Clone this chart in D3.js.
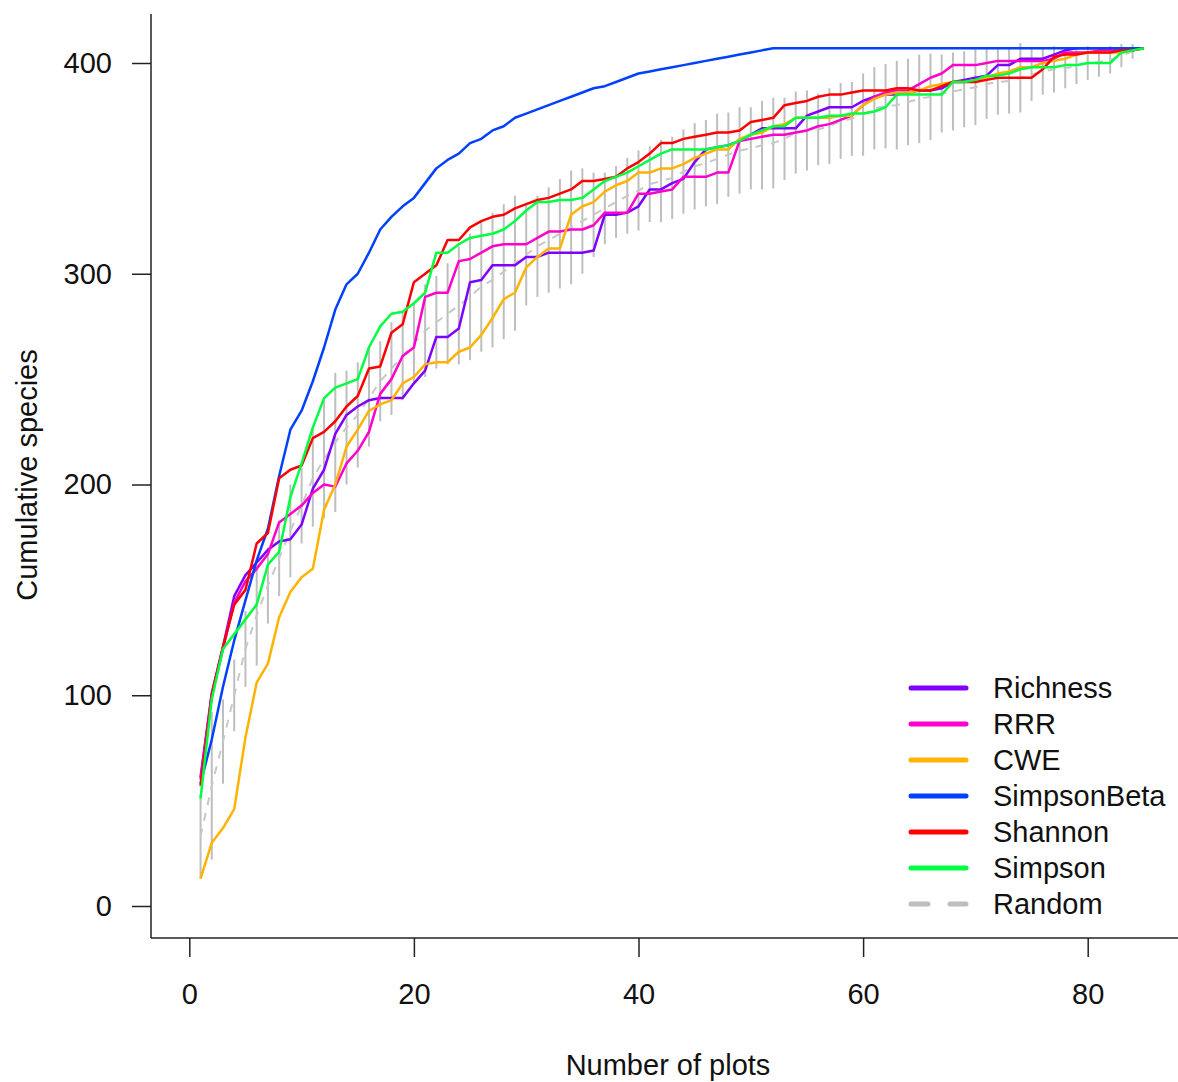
<!DOCTYPE html>
<html>
<head>
<meta charset="utf-8">
<script src="https://cdn.jsdelivr.net/npm/d3@7"></script>
<style>
  body { margin: 0; background: #fff; }
  text { font-family: "Liberation Sans", Arial, sans-serif; fill: #111; }
</style>
</head>
<body>
<div id="chart"></div>
<script>
// number of plots on the x axis (1..85)
var plots = d3.range(1, 86);

var richness = [61,101,123,147,157,163,169,173,174,181,198,207,224,233,237,240,241,241,241,248,
  254,270,270,274,296,297,304,304,304,308,308,310,310,310,310,311,328,328,329,332,
  340,340,343,345,353,359,360,361,363,366,369,369,369,369,375,377,379,379,379,382,
  384,385,385,386,387,387,388,391,392,393,394,399,399,402,402,402,404,406,407,407,
  407,407,407,407,407];
var rrr = [60,100,122,144,154,160,167,182,186,190,196,200,199,210,216,225,243,250,261,265,
  289,291,291,306,307,310,313,314,314,314,317,320,320,321,321,323,329,329,329,338,
  338,339,340,346,346,346,348,348,363,364,365,366,366,367,368,370,371,373,375,380,
  384,386,387,387,390,393,395,399,399,399,400,401,401,401,401,401,402,405,405,405,
  406,406,406,406,407];
var cwe = [13,30,37,46,80,106,115,137,149,156,160,188,200,218,226,235,238,240,248,251,
  257,258,258,263,265,271,279,288,291,303,308,312,312,328,332,334,339,342,344,348,
  348,350,350,352,355,357,359,359,364,366,367,370,371,374,374,374,374,375,375,380,
  383,385,386,386,387,389,390,391,391,392,393,395,396,398,398,400,401,402,404,405,
  405,405,405,406,407];
var simpsonBeta = [58,79,104,126,145,164,179,204,226,235,249,265,283,295,300,310,321,327,332,336,
  343,350,354,357,362,364,368,370,374,376,378,380,382,384,386,388,389,391,393,395,
  396,397,398,399,400,401,402,403,404,405,406,407,407,407,407,407,407,407,407,407,
  407,407,407,407,407,407,407,407,407,407,407,407,407,407,407,407,407,407,407,407,
  407,407,407,407,407];
var shannon = [57,100,123,143,150,172,177,203,207,209,222,225,230,237,242,255,256,272,276,296,
  300,304,316,316,322,325,327,328,331,333,335,336,338,340,344,344,345,346,350,353,
  357,362,362,364,365,366,367,367,368,372,373,374,380,381,382,384,385,385,386,387,
  387,387,388,388,387,387,389,391,391,391,392,393,393,393,393,397,403,404,404,405,
  405,405,406,406,407];
var simpson = [51,98,122,129,136,143,162,168,194,210,227,241,246,248,250,265,275,281,282,286,
  291,310,310,314,317,318,319,321,325,330,334,334,335,335,336,340,344,346,348,351,
  354,357,359,359,359,359,360,361,363,366,368,370,370,374,374,374,375,375,376,376,
  377,379,385,385,385,385,385,391,391,392,394,394,395,397,398,398,398,399,399,400,
  400,400,405,406,407];
// random ordering: mean and half length of the grey bars
var randomMean = [33,57,78,100,122,138,152,165,178,190,203,212,220,227,233,241,249,255,261,267,
  273,277,281,285,289,294,297,301,305,309,313,316,319,322,325,328,331,334,337,339.5,
  342.5,344,345.5,348.5,351,352.5,354.5,356.5,358.5,359.5,361,362,364,367,368,368.5,370,372.5,373.5,375.5,
  378.5,379.5,380,381.5,383,384,385.5,386.5,387.5,388.5,390,391,391.5,393,394.5,396,397,397.5,398.5,400,
  400.5,401.5,403.5,405.5,407];
var randomHalf = [20,35,20,17,18,24,18,18,22,18,23,28,33,27,25,23,19,22,21,19,
  22,22,24,28,30,31,32,32,32,24,24,25,26,27,25,20,17,17,18,19,
  18,19.5,19.5,20,20.5,20.5,21.5,20,20.5,19.5,21,21.5,19.5,19.5,19,17,18,18,17.5,19.5,
  19.5,20,21,20.5,21,20.5,18.5,18.5,18,18,16.5,15.5,15.5,16.5,12.5,11,11,9.5,8.5,8,
  7,6.5,5.5,3.5,0];

var seriesNames = ["Richness", "RRR", "CWE", "SimpsonBeta", "Shannon", "Simpson"];
var seriesValues = [richness, rrr, cwe, simpsonBeta, shannon, simpson];
var seriesColors = ["#7F00FF", "#FF00CC", "#FFB300", "#0040FF", "#FF0000", "#00FF40"];
var xTicks = [0, 20, 40, 60, 80];
var yTicks = [0, 100, 200, 300, 400];

var W = 1178, H = 1082;
var svg = d3.select("#chart").append("svg").attr("width", W).attr("height", H);

var x = d3.scaleLinear().domain([0, 80]).range([189.3, 1087.7]);
var y = d3.scaleLinear().domain([0, 400]).range([906, 63]);

// frame (L shape)
svg.append("line").attr("x1", 151).attr("x2", 151).attr("y1", 14).attr("y2", 938)
  .attr("stroke", "#222").attr("stroke-width", 1.5);
svg.append("line").attr("x1", 151).attr("x2", W).attr("y1", 938).attr("y2", 938)
  .attr("stroke", "#222").attr("stroke-width", 1.5);

// axes
var gx = svg.append("g").attr("transform", "translate(0,938)")
  .call(d3.axisBottom(x).tickValues(xTicks).tickSize(19).tickPadding(26).tickFormat(d3.format("d")));
var gy = svg.append("g").attr("transform", "translate(151,0)")
  .call(d3.axisLeft(y).tickValues(yTicks).tickSize(19).tickPadding(20).tickFormat(d3.format("d")));
[gx, gy].forEach(function (g) {
  g.select(".domain").remove();
  g.selectAll(".tick line").attr("stroke", "#222").attr("stroke-width", 1.5);
  g.selectAll(".tick text").style("font-size", "29px").attr("fill", "#111");
});

svg.append("text").attr("x", 668).attr("y", 1075).attr("text-anchor", "middle")
  .style("font-size", "29px").text("Number of plots");
svg.append("text").attr("transform", "translate(37,475) rotate(-90)").attr("text-anchor", "middle")
  .style("font-size", "29px").text("Cumulative species");

// random: error bars and mean
svg.append("g").selectAll("line").data(plots).enter().append("line")
  .attr("x1", function (d) { return x(d); })
  .attr("x2", function (d) { return x(d); })
  .attr("y1", function (d, i) { return y(randomMean[i] - randomHalf[i]); })
  .attr("y2", function (d, i) { return y(randomMean[i] + randomHalf[i]); })
  .attr("stroke", "#BEBEBE").attr("stroke-width", 2);

var line = d3.line().x(function (d) { return x(d[0]); }).y(function (d) { return y(d[1]); });

svg.append("path").datum(plots.map(function (p, i) { return [p, randomMean[i]]; }))
  .attr("d", line).attr("fill", "none").attr("stroke", "#C8C8C8")
  .attr("stroke-width", 2).attr("stroke-dasharray", "8,8");

seriesValues.forEach(function (vals, k) {
  svg.append("path").datum(plots.map(function (p, i) { return [p, vals[i]]; }))
    .attr("d", line).attr("fill", "none").attr("stroke", seriesColors[k])
    .attr("stroke-width", 2.5).attr("stroke-linejoin", "round");
});

// legend
var legNames = seriesNames.concat(["Random"]);
var legColors = seriesColors.concat(["#BEBEBE"]);
var leg = svg.append("g").selectAll("g").data(legNames).enter().append("g")
  .attr("transform", function (d, i) { return "translate(0," + (688 + i * 36) + ")"; });
leg.append("line").attr("x1", 911).attr("x2", 966).attr("y1", 0).attr("y2", 0)
  .attr("stroke", function (d, i) { return legColors[i]; })
  .attr("stroke-width", 5).attr("stroke-linecap", "round")
  .attr("stroke-dasharray", function (d) { return d === "Random" ? "17,22" : null; });
leg.append("text").attr("x", 993).attr("y", 10).style("font-size", "29px")
  .text(function (d) { return d; });
</script>
</body>
</html>
